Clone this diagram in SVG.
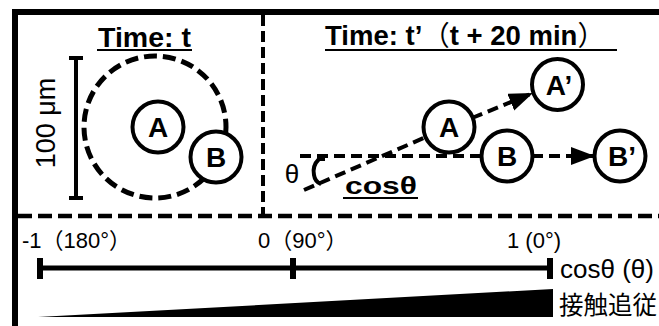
<svg xmlns="http://www.w3.org/2000/svg" width="659" height="326" viewBox="0 0 659 326">
  <style>
    .frame { stroke: #000; stroke-width: 6; fill: none; }
    .divider { stroke: #000; stroke-width: 4; fill: none; stroke-dasharray: 11 5; }
    .path { stroke: #000; stroke-width: 4; fill: none; stroke-dasharray: 11 6; }
    .cell { fill: #fff; stroke: #000; stroke-width: 4; }
    .lbl { font-family: "Liberation Sans", Arial, sans-serif; font-weight: bold; font-size: 28px; text-anchor: middle; fill: #000; }
    .title { font-family: "Liberation Sans", Arial, sans-serif; font-weight: bold; font-size: 26px; fill: #000; }
    .cjk { font-family: "Noto Sans CJK JP", sans-serif; }
    .txt { font-family: "Liberation Sans", Arial, "Noto Sans CJK JP", sans-serif; font-size: 22px; fill: #000; }
    .bar { stroke: #000; stroke-width: 5; fill: none; }
  </style>
  <defs>
    <marker id="head" markerUnits="userSpaceOnUse" markerWidth="26" markerHeight="20" refX="24" refY="9" orient="auto">
      <path d="M0,0 L24,9 L0,18 Z" fill="#000"/>
    </marker>
  </defs>

  <!-- outer frame and panel dividers -->
  <g id="frame">
    <line class="frame" x1="15" y1="12" x2="659" y2="12"/>
    <line class="frame" x1="15" y1="9" x2="15" y2="326"/>
    <line class="divider" x1="263" y1="15" x2="263" y2="214"/>
    <line class="divider" x1="18" y1="216" x2="659" y2="216" style="stroke-width:4.5;stroke-dasharray:14 6"/>
  </g>

  <!-- panel 1: time t -->
  <g id="title-t">
    <text class="title" x="98" y="47" textLength="93" lengthAdjust="spacingAndGlyphs" style="font-size:28px">Time: t</text>
    <line x1="97" y1="50" x2="192" y2="50" stroke="#000" stroke-width="2"/>
  </g>
  <g id="scalebar">
    <line class="bar" x1="76" y1="58" x2="76" y2="198" style="stroke-width:4"/>
    <line class="bar" x1="69" y1="58" x2="83" y2="58" style="stroke-width:4"/>
    <line class="bar" x1="69" y1="198" x2="83" y2="198" style="stroke-width:4"/>
    <text class="txt" x="0" y="0" text-anchor="middle" transform="translate(55,123) rotate(-90)" style="font-size:27px">100 μm</text>
  </g>
  <g id="range">
    <circle cx="155" cy="127" r="71" fill="none" stroke="#000" stroke-width="5" stroke-dasharray="13 6"/>
  </g>
  <g id="cell-A-t">
    <circle class="cell" cx="158" cy="127" r="25.5"/>
    <text class="lbl" x="158" y="137">A</text>
  </g>
  <g id="cell-B-t">
    <circle class="cell" cx="216" cy="157" r="25.5"/>
    <text class="lbl" x="216" y="167">B</text>
  </g>

  <!-- panel 2: time t' -->
  <g id="title-t2">
    <text class="title" x="325" y="45" style="font-size:27.5px">Time: t’<tspan class="cjk" font-weight="normal">（</tspan>t + 20 min<tspan class="cjk" font-weight="normal">）</tspan></text>
    <line x1="325" y1="50" x2="617" y2="50" stroke="#000" stroke-width="2"/>
  </g>

  <g id="connectors">
    <line class="path" x1="300" y1="156" x2="482" y2="156"/>
    <line class="path" x1="304" y1="190" x2="449" y2="127"/>
    <line class="path" x1="472" y1="118" x2="533" y2="93" marker-end="url(#head)"/>
    <line class="path" x1="532" y1="156" x2="595" y2="156" marker-end="url(#head)"/>
  </g>

  <g id="angle">
    <path d="M325,159 L319,159 Q312,166 314,175 Q315,182 321,184" fill="none" stroke="#000" stroke-width="4"/>
    <text class="txt" x="292" y="183" text-anchor="middle" style="font-size:26px">θ</text>
  </g>
  <g id="cos-label">
    <text class="title" x="345" y="194" textLength="72" lengthAdjust="spacingAndGlyphs" style="font-size:24px">cosθ</text>
    <line x1="343" y1="198" x2="418" y2="198" stroke="#000" stroke-width="2"/>
  </g>

  <g id="cell-A">
    <circle class="cell" cx="449" cy="127" r="25.5"/>
    <text class="lbl" x="449" y="137">A</text>
  </g>
  <g id="cell-A2">
    <circle class="cell" cx="557.5" cy="84.5" r="25.5"/>
    <text class="lbl" x="559" y="94.5">A’</text>
  </g>
  <g id="cell-B">
    <circle class="cell" cx="507" cy="156" r="25.5"/>
    <text class="lbl" x="507" y="166">B</text>
  </g>
  <g id="cell-B2">
    <circle class="cell" cx="620" cy="156" r="25.5"/>
    <text class="lbl" x="622" y="166">B’</text>
  </g>

  <!-- bottom: cos axis and tracking gradient -->
  <g id="axis">
    <text class="txt" x="22" y="248">-1<tspan class="cjk">（</tspan>180°<tspan class="cjk">）</tspan></text>
    <text class="txt" x="258" y="248">0<tspan class="cjk">（</tspan>90°<tspan class="cjk">）</tspan></text>
    <text class="txt" x="507" y="248">1 (0°)</text>
    <line class="bar" x1="40" y1="268" x2="550" y2="268"/>
    <line class="bar" x1="40" y1="258" x2="40" y2="279" style="stroke-width:6"/>
    <line class="bar" x1="293" y1="258" x2="293" y2="279" style="stroke-width:6"/>
    <line class="bar" x1="550" y1="258" x2="550" y2="279" style="stroke-width:6"/>
    <text class="txt" x="560" y="278" style="font-size:26px">cosθ (θ)</text>
  </g>
  <g id="tracking">
    <path d="M38,317 L553,289 L553,317 Z" fill="#000"/>
    <text class="txt" x="559" y="314" style="font-size:24.5px">接触追従</text>
  </g>
</svg>
